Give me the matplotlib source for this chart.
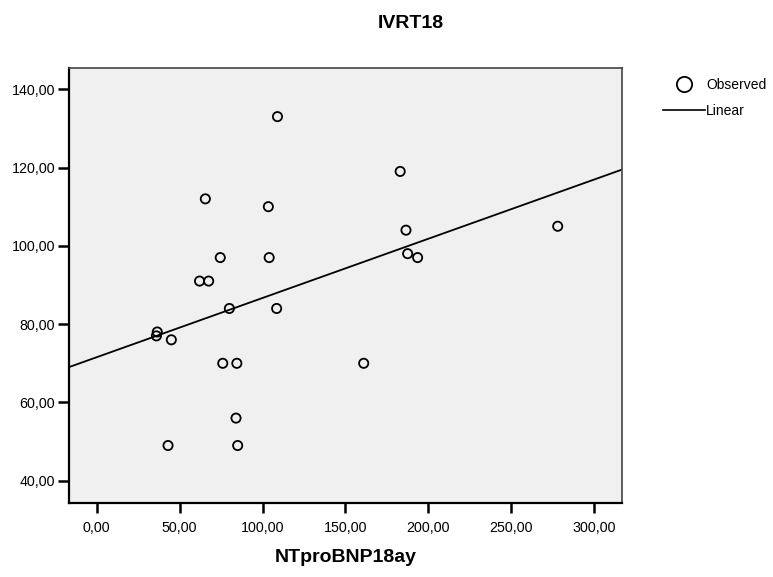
import matplotlib
matplotlib.use("Agg")
import matplotlib.pyplot as plt
import numpy as np
from matplotlib.ticker import FuncFormatter
from matplotlib.lines import Line2D

plt.rcParams["font.family"] = ["Liberation Sans", "DejaVu Sans"]

# values
ntprobnp = [109, 183, 65.5, 103.5, 186.5, 74.5, 104, 187.5, 193.5, 62, 67.5, 80,
            108.5, 36.5, 36, 45, 76, 84.5, 84, 43, 85, 278, 161]
ivrt = [133, 119, 112, 110, 104, 97, 97, 98, 97, 91, 91, 84,
        84, 78, 77, 76, 70, 70, 56, 49, 49, 105, 70]

x_ticks = [0, 50, 100, 150, 200, 250, 300]
y_ticks = [40, 60, 80, 100, 120, 140]


def comma_fmt(v, _pos):
    return f"{v:.2f}".replace(".", ",")


fig = plt.figure(figsize=(7.73, 5.77), dpi=100)
ax = fig.add_axes([0.0893, 0.1288, 0.7150, 0.7539])
ax.set_facecolor("#f0f0f0")

ax.scatter(ntprobnp, ivrt, s=44, facecolors="none", edgecolors="black",
           linewidths=1.3, zorder=3)

# linear fit
slope, intercept = np.polyfit(ntprobnp, ivrt, 1)
xmin, xmax = -16.7, 316.6
xs = np.array([xmin, xmax])
ax.plot(xs, intercept + slope * xs, color="black", lw=1.3, zorder=2)

ax.set_xlim(xmin, xmax)
ax.set_ylim(34.4, 145.5)
ax.set_xticks(x_ticks)
ax.set_yticks(y_ticks)
ax.xaxis.set_major_formatter(FuncFormatter(comma_fmt))
ax.yaxis.set_major_formatter(FuncFormatter(comma_fmt))
ax.tick_params(axis="x", direction="out", length=7, width=1.8, pad=6, labelsize=10.3)
ax.tick_params(axis="y", direction="out", length=8, width=1.8, pad=2, labelsize=10.3)

for side in ("left", "bottom"):
    ax.spines[side].set_linewidth(1.6)
    ax.spines[side].set_color("black")
for side in ("top", "right"):
    ax.spines[side].set_linewidth(1.2)
    ax.spines[side].set_color("#444444")

ax.set_xlabel("NTproBNP18ay", fontsize=14, fontweight="bold", labelpad=10)
fig.text(411 / 773, 1 - 23 / 577, "IVRT18", fontsize=14, fontweight="bold",
         ha="center", va="center")

handles = [
    Line2D([], [], marker="o", ls="none", markersize=11, markerfacecolor="none",
           markeredgecolor="black", markeredgewidth=1.3),
    Line2D([], [], color="black", lw=1.2),
]
fig.legend(handles, ["Observed", "Linear"], loc="upper left",
           bbox_to_anchor=(663 / 773, 1 - 78 / 577), frameon=False,
           fontsize=10, handlelength=3.0, handletextpad=0.1,
           labelspacing=0.85, borderpad=0, borderaxespad=0)

fig.savefig("out.png", dpi=100)
